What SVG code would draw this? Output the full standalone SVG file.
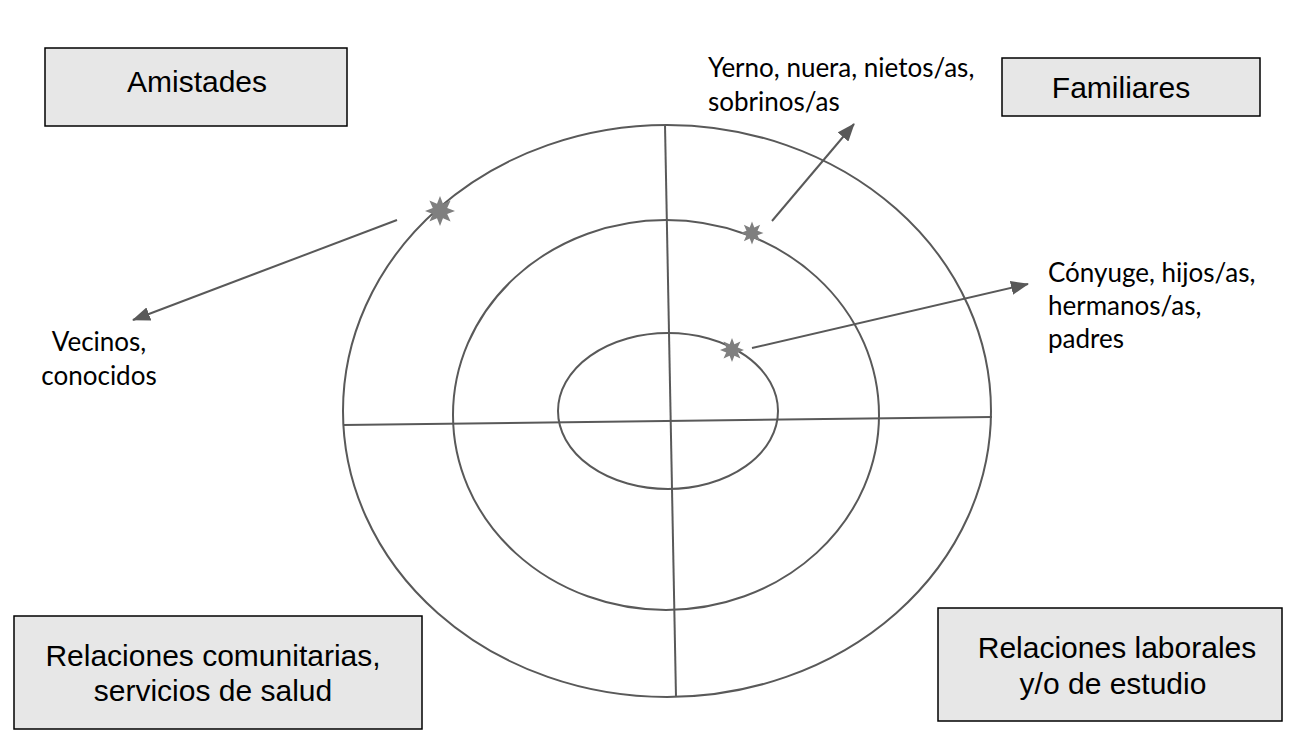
<svg xmlns="http://www.w3.org/2000/svg" width="1298" height="752" viewBox="0 0 1298 752">
<style>
.box{fill:#e7e7e7;stroke:#000;stroke-width:1.5}
.bt{font-family:"Liberation Sans",Arial,sans-serif;font-size:30px;fill:#000;text-anchor:middle}
.lbl{font-family:Lato,"Open Sans",sans-serif;font-size:26px;fill:#000}
.ring{fill:none;stroke:#595959;stroke-width:2}
.axis{stroke:#595959;stroke-width:2;fill:none}
.arr{stroke:#595959;stroke-width:2;fill:none;marker-end:url(#ah)}
.star{fill:#7f7f7f}
</style>
<defs>
<marker id="ah" markerUnits="userSpaceOnUse" viewBox="0 0 18 14" markerWidth="18" markerHeight="14" refX="17" refY="7" orient="auto">
<path d="M0,0 L18,7 L0,14 z" fill="#595959"/>
</marker>
<path id="star" d="M0,-10 L1.99,-4.8 L7.07,-7.07 L4.8,-1.99 L10,0 L4.8,1.99 L7.07,7.07 L1.99,4.8 L0,10 L-1.99,4.8 L-7.07,7.07 L-4.8,1.99 L-10,0 L-4.8,-1.99 L-7.07,-7.07 L-1.99,-4.8 Z"/>
</defs>
<rect width="1298" height="752" fill="#fff"/>

<g id="rings">
<ellipse class="ring" cx="667" cy="411" rx="324" ry="286"/>
<ellipse class="ring" cx="666" cy="415" rx="213" ry="195"/>
<ellipse class="ring" cx="668" cy="411" rx="110" ry="78"/>
<line class="axis" x1="665" y1="125" x2="676" y2="697"/>
<line class="axis" x1="343" y1="425" x2="992" y2="417"/>
</g>

<g id="connectors">
<line class="arr" x1="397" y1="220" x2="133" y2="320"/>
<line class="arr" x1="772" y1="221" x2="854" y2="124"/>
<line class="arr" x1="752" y1="348" x2="1028" y2="284"/>
</g>

<g id="stars">
<use href="#star" class="star" transform="translate(440,211) scale(1.5)"/>
<use href="#star" class="star" transform="translate(752,233) scale(1.15)"/>
<use href="#star" class="star" transform="translate(732,350) scale(1.2)"/>
</g>

<g id="amistades">
<rect class="box" x="45" y="48" width="302" height="78"/>
<text class="bt" x="197" y="92">Amistades</text>
</g>
<g id="familiares">
<rect class="box" x="1002" y="58" width="258" height="58"/>
<text class="bt" x="1121" y="98">Familiares</text>
</g>
<g id="comunitarias">
<rect class="box" x="14" y="616" width="408" height="113"/>
<text class="bt" x="213" y="666">Relaciones comunitarias,</text>
<text class="bt" x="213" y="701">servicios de salud</text>
</g>
<g id="laborales">
<rect class="box" x="938" y="608" width="344" height="113"/>
<text class="bt" x="1117" y="658">Relaciones laborales</text>
<text class="bt" x="1113" y="694">y/o de estudio</text>
</g>

<g id="label-vecinos">
<text class="lbl" x="99" y="351" text-anchor="middle">Vecinos,</text>
<text class="lbl" x="99" y="385" text-anchor="middle">conocidos</text>
</g>
<g id="label-yerno">
<text class="lbl" x="708" y="77">Yerno, nuera, nietos/as,</text>
<text class="lbl" x="708" y="111">sobrinos/as</text>
</g>
<g id="label-conyuge">
<text class="lbl" x="1048" y="282">Cónyuge, hijos/as,</text>
<text class="lbl" x="1048" y="315">hermanos/as,</text>
<text class="lbl" x="1048" y="348">padres</text>
</g>
</svg>
